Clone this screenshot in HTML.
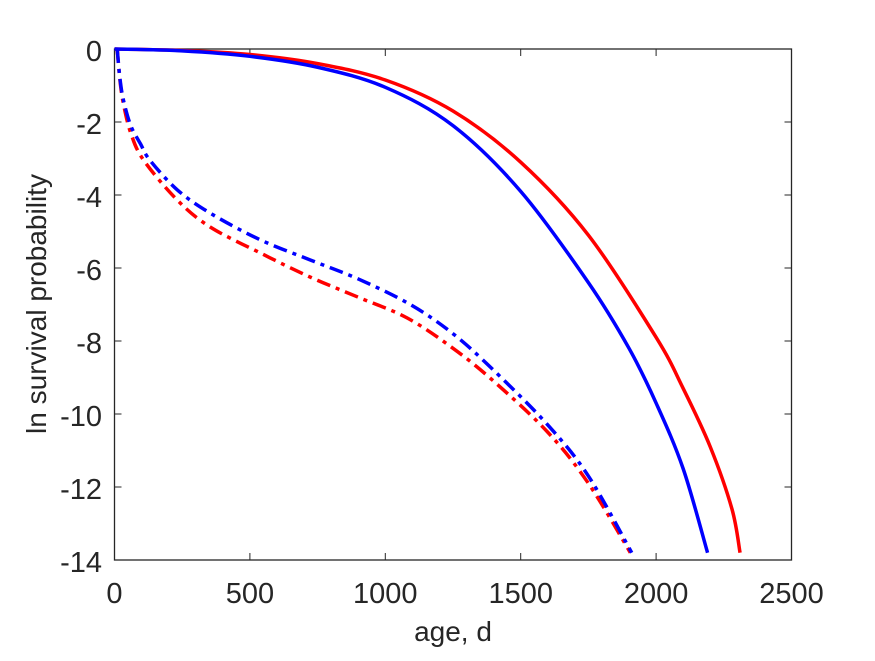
<!DOCTYPE html>
<html><head><meta charset="utf-8"><style>
body{margin:0;background:#fff;}
svg text{font-family:"Liberation Sans",sans-serif;fill:#262626;}
</style></head><body>
<svg id="chart" width="875" height="656" xmlns="http://www.w3.org/2000/svg">
<rect width="875" height="656" fill="#fff"/>
<g id="axes"></g>
<g id="series"></g>
<text x="453" y="641" font-size="28" text-anchor="middle">age, d</text>
<text transform="translate(46,304) rotate(-90)" font-size="28" text-anchor="middle">ln survival probability</text>
</svg>
<script>
const xTicks=[0,500,1000,1500,2000,2500];
const yTicks=[0,-2,-4,-6,-8,-10,-12,-14];
const redSolidX=[0,250,500,750,1000,1250,1500,1750,2000,2100,2200,2280,2310];
const redSolidY=[0,-0.04,-0.15,-0.4,-0.85,-1.7,-3.1,-5.1,-7.9,-9.3,-10.9,-12.6,-13.8];
const blueSolidX=[0,250,500,750,1000,1250,1500,1750,1900,2000,2100,2190];
const blueSolidY=[0,-0.05,-0.2,-0.5,-1.05,-2.1,-3.9,-6.4,-8.2,-9.7,-11.5,-13.8];
const blueDashX=[10,20,33,60,96,131,232,354,539,723,900,1092,1250,1400,1600,1750,1910];
const blueDashY=[0,-0.8,-1.4,-2.1,-2.6,-3.05,-3.86,-4.5,-5.23,-5.78,-6.3,-7.0,-7.8,-8.8,-10.3,-11.7,-13.8];
const redDashX=[10,20,33,60,107,232,354,539,723,900,1081,1250,1400,1600,1750,1905];
const redDashY=[0,-0.85,-1.5,-2.3,-3.04,-4.14,-4.88,-5.59,-6.25,-6.8,-7.37,-8.2,-9.1,-10.5,-11.9,-13.8];
const X0=114.5,X1=791.5,Y0=49,Y1=560;
const sx=v=>X0+(v-0)/(2500)*(X1-X0);
const sy=v=>Y0+(0-v)/14*(Y1-Y0);
const NS="http://www.w3.org/2000/svg";
const axes=document.getElementById('axes'),ser=document.getElementById('series');
const frame=document.createElementNS(NS,'rect');


frame.setAttribute('x',X0);frame.setAttribute('y',Y0);frame.setAttribute('width',X1-X0);frame.setAttribute('height',Y1-Y0);
frame.setAttribute('fill','none');frame.setAttribute('stroke','#262626');frame.setAttribute('stroke-width','1.3');
axes.appendChild(frame);
xTicks.forEach(t=>{
 const x=sx(t);
 const l=document.createElementNS(NS,'path');
 
 
 l.setAttribute('d',`M${x},${Y1}V${Y1-7}M${x},${Y0}V${Y0+7}`);l.setAttribute('stroke','#262626');
 axes.appendChild(l);
 const tx=document.createElementNS(NS,'text');
 
 
 tx.setAttribute('x',x);tx.setAttribute('y',Y1+43);tx.setAttribute('font-size','29');tx.setAttribute('text-anchor','middle');
 tx.textContent=t;axes.appendChild(tx);
});
yTicks.forEach(t=>{
 const y=sy(t);
 const l=document.createElementNS(NS,'path');
 
 
 l.setAttribute('d',`M${X0},${y}H${X0+7}M${X1},${y}H${X1-7}`);l.setAttribute('stroke','#262626');
 axes.appendChild(l);
 const tx=document.createElementNS(NS,'text');
 
 
 tx.setAttribute('x',102);tx.setAttribute('y',y+12);tx.setAttribute('font-size','29');tx.setAttribute('text-anchor','end');
 tx.textContent=t;axes.appendChild(tx);
});
function smooth(xs,ys){
 const p=xs.map((v,i)=>[sx(v),sy(ys[i])]);
 let d=`M${p[0][0]},${p[0][1]}`;
 for(let i=0;i<p.length-1;i++){
  const a=p[i-1]||p[i],b=p[i],c=p[i+1],e=p[i+2]||c;
  d+=`C${b[0]+(c[0]-a[0])/6},${b[1]+(c[1]-a[1])/6} ${c[0]-(e[0]-b[0])/6},${c[1]-(e[1]-b[1])/6} ${c[0]},${c[1]}`;
 }
 return d;
}
function draw(xs,ys,color,dash,name){
 const pa=document.createElementNS(NS,'path');
 
 
 pa.setAttribute('d',smooth(xs,ys));pa.setAttribute('fill','none');pa.setAttribute('stroke',color);
 pa.setAttribute('stroke-width','3.5');
 if(dash)pa.setAttribute('stroke-dasharray','14 6 4 6');
 ser.appendChild(pa);
}
draw(redSolidX,redSolidY,'#ff0000',false,'red-solid-line');
draw(blueSolidX,blueSolidY,'#0000ff',false,'blue-solid-line');
draw(redDashX,redDashY,'#ff0000',true,'red-dashdot-line');
draw(blueDashX,blueDashY,'#0000ff',true,'blue-dashdot-line');
</script>
</body></html>
